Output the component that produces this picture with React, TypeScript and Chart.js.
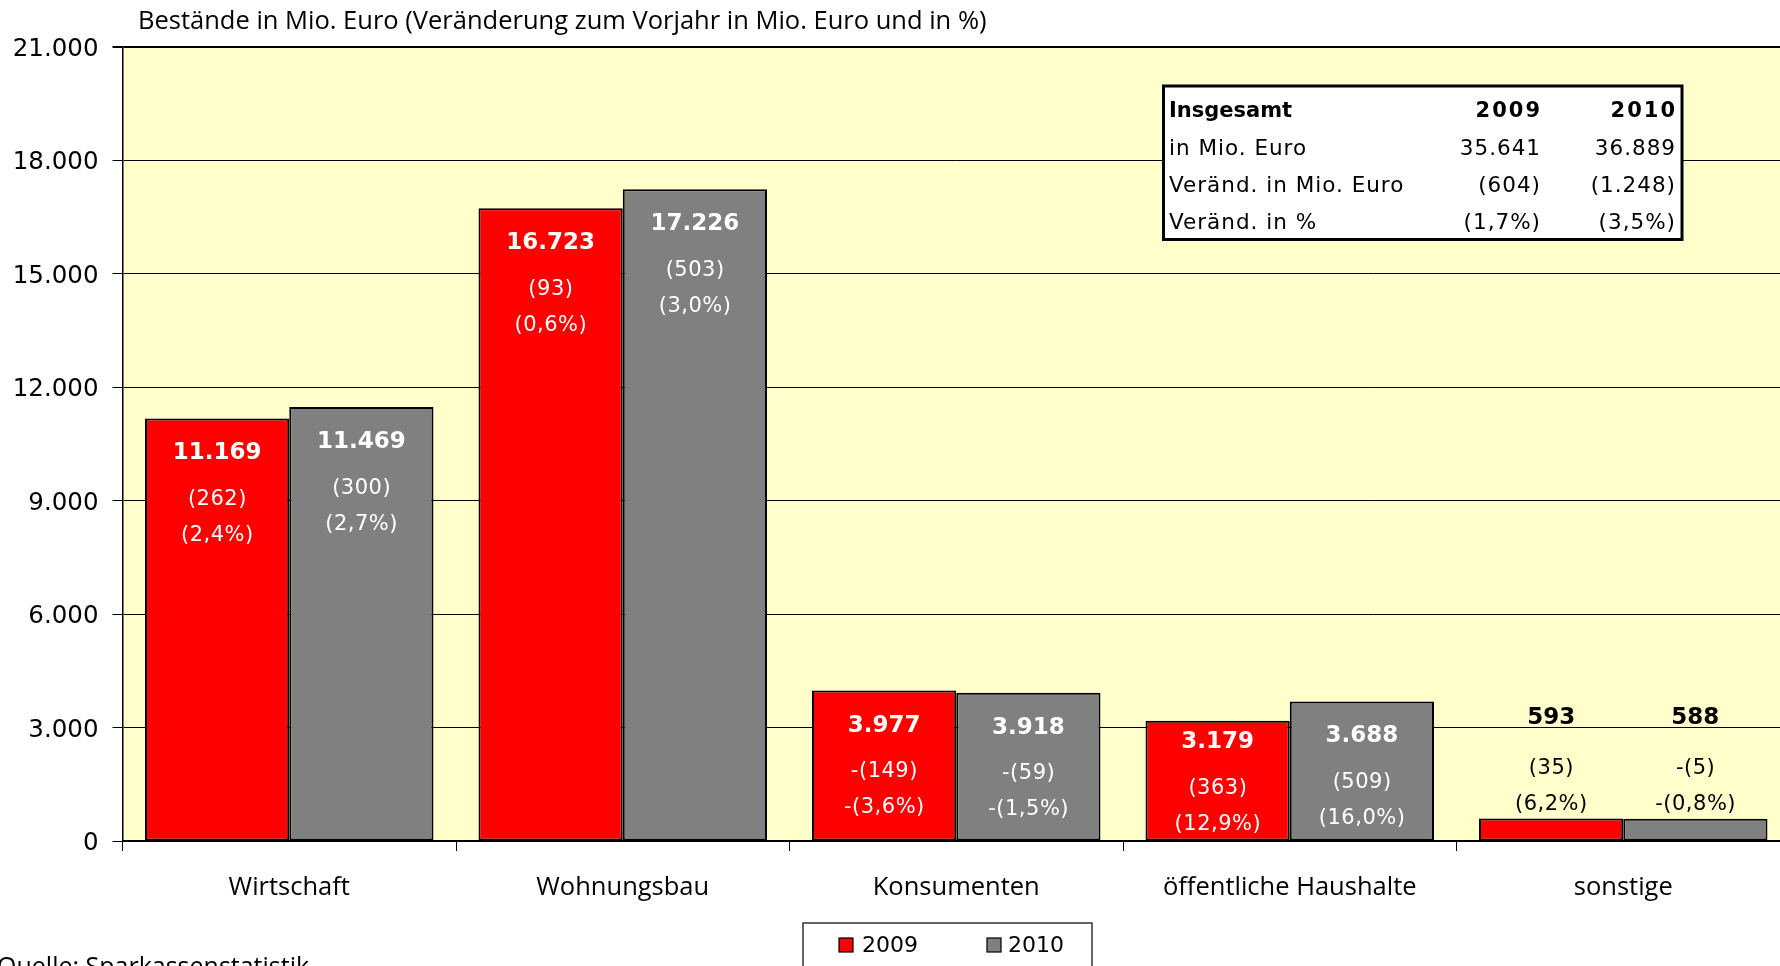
import React, { useEffect, useRef } from 'react';
import { Chart, registerables } from 'chart.js';

Chart.register(...registerables);

// ---- data ----
const categories = ['Wirtschaft', 'Wohnungsbau', 'Konsumenten', 'öffentliche Haushalte', 'sonstige'];
const seriesLabels = ['2009', '2010'];
const values2009 = [11169, 16723, 3977, 3179, 593];
const values2010 = [11469, 17226, 3918, 3688, 588];
const change2009 = [262, 93, -149, 363, 35];
const change2010 = [300, 503, -59, 509, -5];
const pct2009 = [2.4, 0.6, -3.6, 12.9, 6.2];
const pct2010 = [2.7, 3.0, -1.5, 16.0, -0.8];
const yMax = 21000;
const yStep = 3000;
const titleText = 'Bestände in Mio. Euro (Veränderung zum Vorjahr in Mio. Euro und in %)';
const sourceText = 'Quelle: Sparkassenstatistik';
const tableHeader = 'Insgesamt';
const tableRowLabels = ['in Mio. Euro', 'Veränd. in Mio. Euro', 'Veränd. in %'];
const totals2009 = [35641, 604, 1.7];
const totals2010 = [36889, 1248, 3.5];

// ---- styles ----
const RED = '#FF0000';
const GRAY = '#808080';
const PLOT_BG = '#FFFFCC';

const fmtInt = (n: number) => String(Math.abs(Math.round(n))).replace(/\B(?=(\d{3})+(?!\d))/g, '.');
const fmtChange = (n: number) => (n < 0 ? '-' : '') + '(' + fmtInt(n) + ')';
const fmtPct = (p: number) => (p < 0 ? '-' : '') + '(' + Math.abs(p).toFixed(1).replace('.', ',') + '%)';

function text(ctx: CanvasRenderingContext2D, s: string, x: number, y: number, font: string, color: string, align: CanvasTextAlign, spacing = 0) {
  ctx.save();
  ctx.font = font;
  ctx.fillStyle = color;
  ctx.textAlign = align;
  ctx.textBaseline = 'middle';
  (ctx as any).letterSpacing = spacing + 'px';
  let xx = x;
  if (spacing && align === 'center') xx = x + spacing / 2;
  if (spacing && align === 'right') xx = x + spacing;
  ctx.fillText(s, xx, y);
  ctx.restore();
}

const decorPlugin = {
  id: 'decor',
  beforeDraw(chart: any) {
    const { ctx, chartArea } = chart;
    ctx.save();
    ctx.fillStyle = '#FFFFFF';
    ctx.fillRect(0, 0, chart.width, chart.height);
    ctx.fillStyle = PLOT_BG;
    ctx.fillRect(chartArea.left, chartArea.top, chartArea.right - chartArea.left, chartArea.bottom - chartArea.top);
    ctx.restore();
  },
  afterDatasetsDraw(chart: any) {
    const { ctx } = chart;
    const changes = [change2009, change2010];
    const pcts = [pct2009, pct2010];
    [0, 1].forEach((d) => {
      const meta = chart.getDatasetMeta(d);
      meta.data.forEach((bar: any, i: number) => {
        const value = chart.data.datasets[d].data[i] as number;
        const x = bar.x;
        const top = bar.y;
        const inside = bar.base - top > 60;
        const col = inside ? '#FFFFFF' : '#000000';
        let y1 = inside ? top + 35 : top - 101;
        let y2 = inside ? top + 81 : top - 50;
        let y3 = inside ? top + 117 : top - 14;
        if (inside && y3 > bar.base - 16) {
          const shift = y3 - (bar.base - 16);
          y1 -= shift; y2 -= shift; y3 -= shift;
        }
        text(ctx, fmtInt(value), x, y1, 'bold 23px "DejaVu Sans"', col, 'center');
        text(ctx, fmtChange(changes[d][i]), x, y2, '21px "DejaVu Sans"', col, 'center', 0.5);
        text(ctx, fmtPct(pcts[d][i]), x, y3, '21px "DejaVu Sans"', col, 'center', 0.5);
      });
    });
  },
  afterDraw(chart: any) {
    const { ctx } = chart;
    const xScale = chart.scales.x;
    // title
    text(ctx, titleText, 138, 22, '25.5px "Open Sans"', '#000', 'left');
    // category labels
    categories.forEach((c, i) => {
      text(ctx, c, xScale.getPixelForValue(i), 887.5, '25.5px "Open Sans"', '#000', 'center');
    });
    // source
    text(ctx, sourceText, -3, 968, '25px "Open Sans"', '#000', 'left');

    // summary table
    ctx.save();
    ctx.fillStyle = '#FFFFFF';
    ctx.fillRect(1163.5, 86, 518.5, 153.5);
    ctx.strokeStyle = '#000';
    ctx.lineWidth = 3;
    ctx.strokeRect(1163.5, 86, 518.5, 153.5);
    ctx.restore();
    const colL = 1169, col1 = 1540, col2 = 1675;
    const rowY = [112, 149, 186, 223.5];
    text(ctx, tableHeader, colL, rowY[0], 'bold 21px "DejaVu Sans"', '#000', 'left');
    text(ctx, seriesLabels[0], col1, rowY[0], 'bold 21px "DejaVu Sans"', '#000', 'right', 2);
    text(ctx, seriesLabels[1], col2, rowY[0], 'bold 21px "DejaVu Sans"', '#000', 'right', 2);
    const fmts = [fmtInt, fmtChange, fmtPct];
    tableRowLabels.forEach((lab, r) => {
      text(ctx, lab, colL, rowY[r + 1], '21.5px "DejaVu Sans"', '#000', 'left', 1);
      text(ctx, fmts[r](totals2009[r]), col1, rowY[r + 1], '21.5px "DejaVu Sans"', '#000', 'right', 1);
      text(ctx, fmts[r](totals2010[r]), col2, rowY[r + 1], '21.5px "DejaVu Sans"', '#000', 'right', 1);
    });

    // legend
    ctx.save();
    ctx.fillStyle = '#FFFFFF';
    ctx.fillRect(803, 923, 289, 60);
    ctx.strokeStyle = '#333';
    ctx.lineWidth = 1.5;
    ctx.strokeRect(803, 923, 289, 60);
    const legendItems = [
      { label: seriesLabels[0], color: RED, sx: 839, tx: 862 },
      { label: seriesLabels[1], color: GRAY, sx: 987, tx: 1008 },
    ];
    legendItems.forEach((it) => {
      ctx.fillStyle = it.color;
      ctx.fillRect(it.sx, 938, 14, 14);
      ctx.strokeStyle = '#000';
      ctx.lineWidth = 1.2;
      ctx.strokeRect(it.sx, 938, 14, 14);
    });
    ctx.restore();
    legendItems.forEach((it) => text(ctx, it.label, it.tx, 946, '22px "DejaVu Sans"', '#000', 'left'));
  },
};

export default function App() {
  const ref = useRef<HTMLCanvasElement | null>(null);
  useEffect(() => {
    if (!ref.current) return;
    const chart = new Chart(ref.current, {
      type: 'bar',
      data: {
        labels: categories,
        datasets: [
          { label: seriesLabels[0], data: values2009, backgroundColor: RED, borderColor: '#000', borderWidth: 2, borderSkipped: false },
          { label: seriesLabels[1], data: values2010, backgroundColor: GRAY, borderColor: '#000', borderWidth: 2, borderSkipped: false },
        ],
      },
      options: {
        responsive: false,
        animation: false,
        devicePixelRatio: 1,
        datasets: { bar: { categoryPercentage: 0.865, barPercentage: 1.0 } },
        layout: { padding: { top: 46.5, left: 0, right: 10, bottom: 0 } },
        plugins: { legend: { display: false }, title: { display: false }, tooltip: { enabled: false } },
        scales: {
          x: {
            afterFit: (s: any) => { s.height = 125; },
            ticks: { display: false },
            grid: { offset: true, drawOnChartArea: false, drawTicks: true, tickLength: 10, color: '#000', lineWidth: 1 },
            border: { display: true, color: '#000', width: 2 },
          },
          y: {
            min: 0,
            max: yMax,
            afterFit: (s: any) => { s.width = 122.5; },
            ticks: {
              stepSize: yStep,
              autoSkip: false,
              padding: 14,
              labelOffset: 3,
              color: '#000',
              font: { family: 'DejaVu Sans', size: 24.5 },
              callback: (v: any) => fmtInt(Number(v)),
            },
            grid: {
              color: '#000',
              lineWidth: (c: any) => (c.tick && c.tick.value === yMax ? 2 : 1),
              drawTicks: true,
              tickLength: 10,
            },
            border: { display: true, color: '#000', width: 1.5 },
          },
        },
      },
      plugins: [decorPlugin],
    });
    return () => chart.destroy();
  }, []);
  return (
    <div style={{ position: 'fixed', left: 0, top: 0, width: 1780, height: 966, overflow: 'hidden', background: '#fff' }}>
      <canvas ref={ref} width={1800} height={966} style={{ width: 1800, height: 966, display: 'block' }} />
    </div>
  );
}
